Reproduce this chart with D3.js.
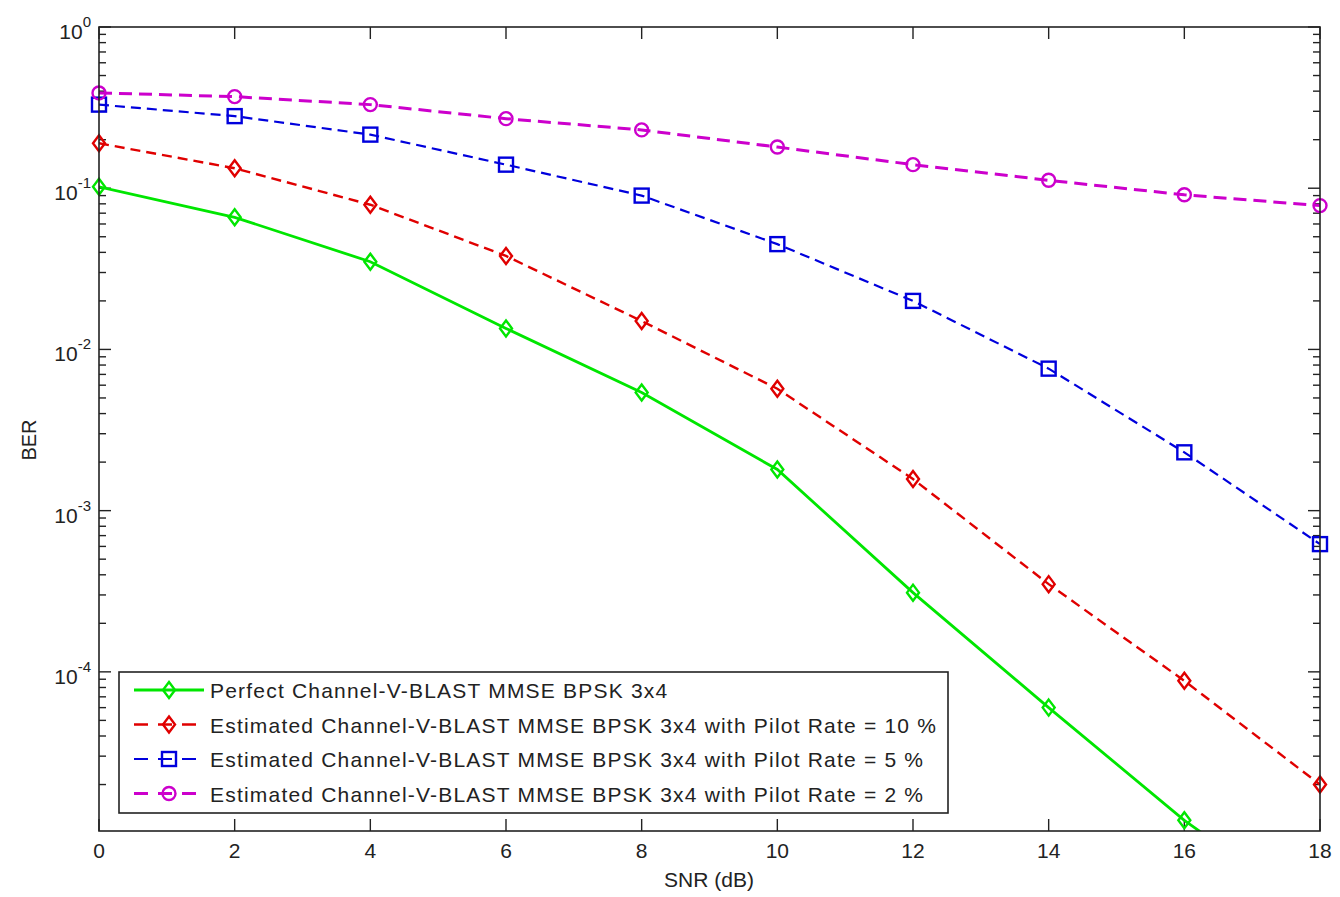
<!DOCTYPE html>
<html>
<head>
<meta charset="utf-8">
<script src="https://cdn.jsdelivr.net/npm/d3@7"></script>
<style>
  body { margin: 0; background: #fff; }
  svg { display: block; }
  text { font-family: "Liberation Sans", Arial, sans-serif; fill: #222; }
</style>
</head>
<body>
<svg width="1340" height="897"></svg>
<script>
// SNR points (dB)
const snr = [0, 2, 4, 6, 8, 10, 12, 14, 16, 18];

// BER values
const berPerfect = [0.102, 0.066, 0.035, 0.0135, 0.0054, 0.0018, 3.1e-4, 6.0e-5, 1.2e-5, 3e-6];
const berPilot10 = [0.19, 0.133, 0.079, 0.038, 0.015, 0.0057, 0.00157, 3.5e-4, 8.8e-5, 2.0e-5];
const berPilot5 = [0.33, 0.28, 0.215, 0.14, 0.09, 0.045, 0.020, 0.0076, 0.0023, 6.2e-4];
const berPilot2 = [0.39, 0.37, 0.33, 0.27, 0.23, 0.18, 0.14, 0.112, 0.091, 0.078];

const seriesNames = [
    "Perfect Channel-V-BLAST MMSE BPSK 3x4",
    "Estimated Channel-V-BLAST MMSE BPSK 3x4 with Pilot Rate = 10 %",
    "Estimated Channel-V-BLAST MMSE BPSK 3x4 with Pilot Rate = 5 %",
    "Estimated Channel-V-BLAST MMSE BPSK 3x4 with Pilot Rate = 2 %"
];

const xTicks = [0, 2, 4, 6, 8, 10, 12, 14, 16, 18];
const yExponents = [0, -1, -2, -3, -4];

const series = [
    { name: seriesNames[0], values: berPerfect, color: "#00e600", dash: null, width: 2.8, marker: "diamond" },
    { name: seriesNames[1], values: berPilot10, color: "#e00000", dash: "10,6", width: 2.4, marker: "diamond" },
    { name: seriesNames[2], values: berPilot5, color: "#0000dd", dash: "10,6", width: 2.2, marker: "square" },
    { name: seriesNames[3], values: berPilot2, color: "#cc00cc", dash: "13,7", width: 3, marker: "circle" }
];

const svg = d3.select("svg");
const plotLeft = 99, plotRight = 1320, plotTop = 27, plotBottom = 831;

const xScale = d3.scaleLinear().domain([0, 18]).range([plotLeft, plotRight]);
const yScale = d3.scaleLog().domain([1.03e-5, 1]).range([plotBottom, plotTop]);

// clip for the lines
svg.append("defs").append("clipPath").attr("id", "plotclip")
    .append("rect")
    .attr("x", plotLeft).attr("y", plotTop)
    .attr("width", plotRight - plotLeft).attr("height", plotBottom - plotTop);

// minor ticks for log axis
const minorVals = [];
for (let e = -5; e < 0; e++) {
    for (let m = 2; m <= 9; m++) {
        const v = m * Math.pow(10, e);
        if (v >= yScale.domain()[0]) minorVals.push(v);
    }
}

const axisG = svg.append("g");

// y ticks (left + right, inward)
yExponents.forEach(e => {
    const y = yScale(Math.pow(10, e));
    axisG.append("line").attr("x1", plotLeft).attr("x2", plotLeft + 12).attr("y1", y).attr("y2", y)
        .attr("stroke", "#222").attr("stroke-width", 1.4);
    axisG.append("line").attr("x1", plotRight).attr("x2", plotRight - 12).attr("y1", y).attr("y2", y)
        .attr("stroke", "#222").attr("stroke-width", 1.4);
    const t = axisG.append("text")
        .attr("x", 91).attr("y", y + 12)
        .attr("text-anchor", "end")
        .style("font-size", "21px");
    t.append("tspan").text("10");
    t.append("tspan").attr("dy", -12).style("font-size", "15px").text(e);
});
minorVals.forEach(v => {
    const y = yScale(v);
    axisG.append("line").attr("x1", plotLeft).attr("x2", plotLeft + 7).attr("y1", y).attr("y2", y)
        .attr("stroke", "#222").attr("stroke-width", 1.4);
    axisG.append("line").attr("x1", plotRight).attr("x2", plotRight - 7).attr("y1", y).attr("y2", y)
        .attr("stroke", "#222").attr("stroke-width", 1.4);
});

// x ticks (bottom + top, inward)
xTicks.forEach(v => {
    const x = xScale(v);
    axisG.append("line").attr("x1", x).attr("x2", x).attr("y1", plotBottom).attr("y2", plotBottom - 12)
        .attr("stroke", "#222").attr("stroke-width", 1.4);
    axisG.append("line").attr("x1", x).attr("x2", x).attr("y1", plotTop).attr("y2", plotTop + 12)
        .attr("stroke", "#222").attr("stroke-width", 1.4);
    axisG.append("text")
        .attr("x", x).attr("y", 858)
        .attr("text-anchor", "middle")
        .style("font-size", "21px")
        .text(v);
});

// axis labels
svg.append("text")
    .attr("x", 709).attr("y", 887)
    .attr("text-anchor", "middle")
    .style("font-size", "21px")
    .text("SNR (dB)");

svg.append("text")
    .attr("transform", "translate(36, 440) rotate(-90)")
    .attr("text-anchor", "middle")
    .style("font-size", "20px")
    .text("BER");

// marker drawing
function drawMarker(g, type, x, y, color) {
    if (type === "diamond") {
        g.append("path")
            .attr("d", `M${x},${y - 8} L${x + 6},${y} L${x},${y + 8} L${x - 6},${y} Z`)
            .attr("fill", "none").attr("stroke", color).attr("stroke-width", 2.4);
    } else if (type === "square") {
        g.append("rect")
            .attr("x", x - 7).attr("y", y - 7).attr("width", 14).attr("height", 14)
            .attr("fill", "none").attr("stroke", color).attr("stroke-width", 2.4);
    } else {
        g.append("circle")
            .attr("cx", x).attr("cy", y).attr("r", 6.5)
            .attr("fill", "none").attr("stroke", color).attr("stroke-width", 2.4);
    }
}

const line = d3.line()
    .x(d => xScale(d[0]))
    .y(d => yScale(d[1]));

const plotG = svg.append("g").attr("clip-path", "url(#plotclip)");

series.forEach(s => {
    const pts = snr.map((x, i) => [x, s.values[i]]);
    plotG.append("path")
        .datum(pts)
        .attr("d", line)
        .attr("fill", "none")
        .attr("stroke", s.color)
        .attr("stroke-width", s.width)
        .attr("stroke-dasharray", s.dash);
});

const markG = svg.append("g");
series.forEach(s => {
    snr.forEach((x, i) => {
        const v = s.values[i];
        if (v < yScale.domain()[0]) return;
        drawMarker(markG, s.marker, xScale(x), yScale(v), s.color);
    });
});

// frame
svg.append("rect")
    .attr("x", plotLeft).attr("y", plotTop)
    .attr("width", plotRight - plotLeft).attr("height", plotBottom - plotTop)
    .attr("fill", "none").attr("stroke", "#222").attr("stroke-width", 1.6);

// legend
const legX = 119, legY = 672, legW = 829, legH = 141, rowH = 34.5;
const leg = svg.append("g");
leg.append("rect")
    .attr("x", legX).attr("y", legY)
    .attr("width", legW).attr("height", legH)
    .attr("fill", "#fff").attr("stroke", "#222").attr("stroke-width", 1.6);

series.forEach((s, i) => {
    const y = legY + 18 + i * rowH;
    leg.append("line")
        .attr("x1", 134).attr("x2", 204).attr("y1", y).attr("y2", y)
        .attr("stroke", s.color)
        .attr("stroke-width", s.width)
        .attr("stroke-dasharray", s.dash ? "14,10" : null);
    drawMarker(leg, s.marker, 169, y, s.color);
    leg.append("text")
        .attr("x", 210).attr("y", y + 8)
        .style("font-size", "21px")
        .style("letter-spacing", "1.2px")
        .text(s.name);
});
</script>
</body>
</html>
